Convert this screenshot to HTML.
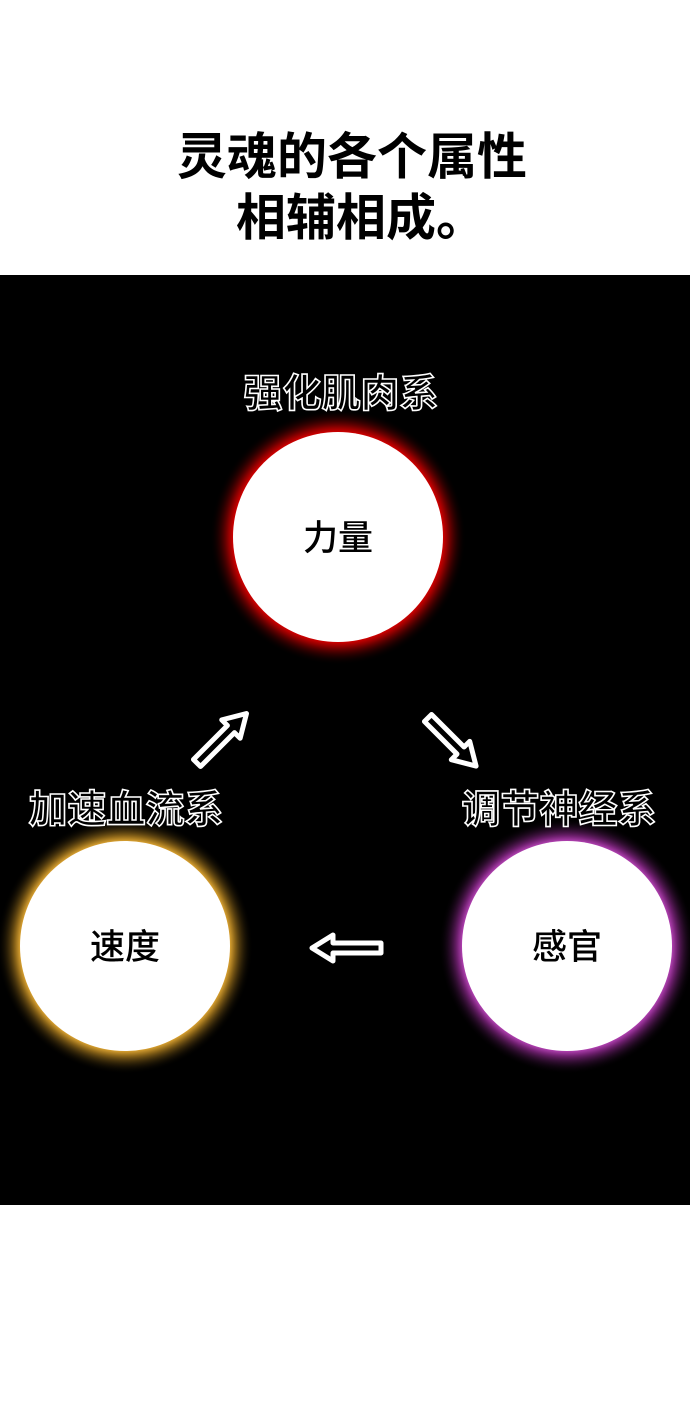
<!DOCTYPE html>
<html><head><meta charset="utf-8"><style>
html,body{margin:0;padding:0;background:#fff;}
body{width:690px;height:1415px;position:relative;overflow:hidden;}
</style></head><body>
<svg width="690" height="1415" xmlns="http://www.w3.org/2000/svg" style="position:absolute;left:0;top:0">
<defs>
<radialGradient id="gr" cx="50%" cy="50%" r="50%">
<stop offset="0.82" stop-color="#d00000"/><stop offset="0.86" stop-color="#8a0000"/><stop offset="1" stop-color="#000" stop-opacity="0"/></radialGradient>
<radialGradient id="gy" cx="50%" cy="50%" r="50%">
<stop offset="0.82" stop-color="#d8a030"/><stop offset="0.86" stop-color="#8a6418"/><stop offset="1" stop-color="#000" stop-opacity="0"/></radialGradient>
<radialGradient id="gp" cx="50%" cy="50%" r="50%">
<stop offset="0.82" stop-color="#b040b0"/><stop offset="0.86" stop-color="#702070"/><stop offset="1" stop-color="#000" stop-opacity="0"/></radialGradient>
</defs>
<g font-family="Liberation Sans, Noto Sans CJK SC, sans-serif" font-weight="bold" font-size="50" text-anchor="middle" fill="#000">
<text x="352" y="174">灵魂的各个属性</text>
<text x="361" y="235">相辅相成。</text>
</g>
<rect x="0" y="275" width="690" height="930" fill="#000"/>
<circle cx="338" cy="537" r="128" fill="url(#gr)"/>
<circle cx="125" cy="946" r="128" fill="url(#gy)"/>
<circle cx="567" cy="946" r="128" fill="url(#gp)"/>
<circle cx="338" cy="537" r="105" fill="#fff"/>
<circle cx="125" cy="946" r="105" fill="#fff"/>
<circle cx="567" cy="946" r="105" fill="#fff"/>
<g font-family="Liberation Sans, Noto Sans CJK SC, sans-serif" font-size="35" font-weight="500" text-anchor="middle" fill="#000">
<text x="338" y="550">力量</text>
<text x="125" y="959">速度</text>
<text x="567" y="959">感官</text>
</g>
<g font-family="Liberation Sans, Noto Sans CJK SC, sans-serif" font-weight="bold" font-size="39" text-anchor="middle" fill="#000" stroke="#fff" stroke-width="1.6">
<text x="341" y="407">强化肌肉系</text>
<text x="126" y="823">加速血流系</text>
<text x="559" y="823">调节神经系</text>
</g>
<g fill="#000" stroke="#fff" stroke-width="5" stroke-linejoin="round">
<polygon transform="translate(197,763) rotate(-45)" points="0,-5 48,-5 48,-13 70,0 48,13 48,5 0,5"/>
<polygon transform="translate(428,718) rotate(45)" points="0,-5 46,-5 46,-13 68,0 46,13 46,5 0,5"/>
<polygon transform="translate(381,948) rotate(180)" points="0,-5 48,-5 48,-13 69,0 48,13 48,5 0,5"/>
</g>
</svg>
</body></html>
